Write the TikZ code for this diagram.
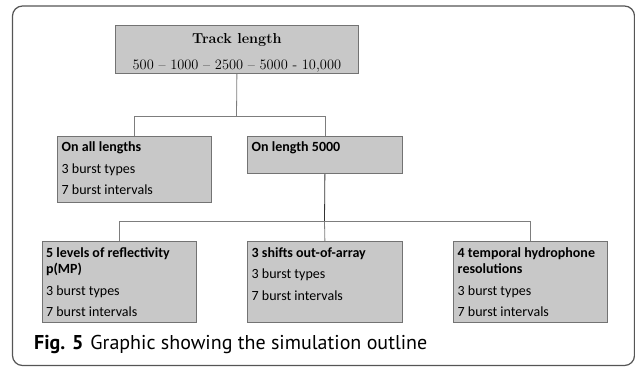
\documentclass[tikz,border=0pt]{standalone}
\usepackage{fontspec}
\newfontfamily\boxfont{Carlito}
\newfontfamily\capfont{PT Sans}
\definecolor{boxfill}{RGB}{200,200,200}
\definecolor{boxline}{RGB}{115,115,115}
\definecolor{conn}{RGB}{125,125,125}
\definecolor{framecol}{RGB}{85,85,85}
\newcommand{\boxtext}[3]{\parbox[c][#2][t]{#1}{\boxfont\fontsize{14}{16.5}\selectfont\raggedright\setlength{\parindent}{0pt}\setlength{\parskip}{5pt}\setlength{\leftskip}{4pt}\rule{0pt}{16pt}#3}}
\tikzset{
  gbox/.style={draw=boxline, fill=boxfill, line width=0.8pt, inner sep=0pt, anchor=north west},
  connline/.style={draw=conn, line width=0.8pt},
  darkline/.style={draw=black!80, line width=0.8pt},
}
\begin{document}
\begin{tikzpicture}[x=1pt, y=-1pt]
\useasboundingbox (0,0) rectangle (635,368);
\draw[framecol, line width=1.2pt, rounded corners=10pt] (12.5,6) rectangle (634.5,365.5);

\node[gbox] (top) at (115,25) {\parbox[c][48pt][t]{243pt}{\centering\fontsize{14.4}{25.5}\selectfont\rule{0pt}{18.5pt}\textbf{Track length}\par 500 – 1000 – 2500 – 5000 - 10,000}};

\node[gbox] (all) at (57.3,135.5) {\boxtext{153.4pt}{66.8pt}{\textbf{On all lengths}\par 3 burst types\par 7 burst intervals}};
\node[gbox] (l5000) at (247.3,135.5) {\boxtext{154.4pt}{37.8pt}{\textbf{On length 5000}}};

\node[gbox] (b1) at (41.7,241) {\boxtext{154pt}{80.7pt}{\textbf{5 levels of reflectivity\\p(MP)}\par 3 burst types\par 7 burst intervals}};
\node[gbox] (b2) at (247.3,241) {\boxtext{154.4pt}{80.7pt}{\textbf{3 shifts out-of-array}\par 3 burst types\par 7 burst intervals}};
\node[gbox] (b3) at (453.3,241) {\boxtext{153.4pt}{80.7pt}{\textbf{4 temporal hydrophone\\resolutions}\par 3 burst types\par 7 burst intervals}};

\coordinate (j1) at (236.5,116.7);
\coordinate (j2) at (324.5,221.7);
\draw[connline] (top.south) -- (j1);
\draw[connline] (j1) -| (all.north);
\draw[connline] (j1) -| (l5000.north);
\draw[darkline] (l5000.south) -- (j2);
\draw[connline] (j2) -| (b1.north);
\draw[connline] (j2) -| (b3.north);
\draw[connline] (j2) -- (b2.north);

\node[anchor=base west, inner sep=0pt] (cap) at (34,349.5) {\capfont\fontsize{20}{24}\selectfont\textbf{Fig. 5}\hspace{7pt}Graphic showing the simulation outline};
\end{tikzpicture}
\end{document}
